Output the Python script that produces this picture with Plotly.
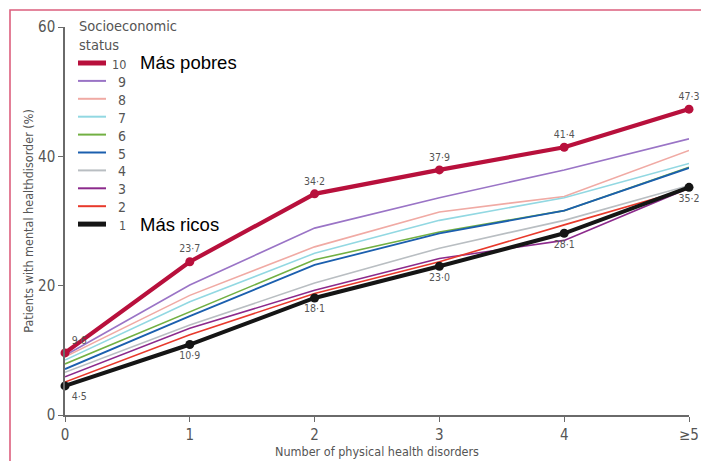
import plotly.graph_objects as go

# Number of physical health disorders (last category is open-ended)
x_vals = [0, 1, 2, 3, 4, 5]
x_ticks = ["0", "1", "2", "3", "4", "≥5"]
y_ticks = [0, 20, 40, 60]

# Percentage of patients with a mental health disorder, by socioeconomic decile
ses_10 = [9.6, 23.7, 34.2, 37.9, 41.4, 47.3]
ses_9 = [9.2, 20.1, 28.9, 33.6, 37.9, 42.7]
ses_8 = [9.0, 18.5, 26.0, 31.4, 33.8, 40.9]
ses_7 = [8.5, 17.5, 25.0, 30.1, 33.6, 38.9]
ses_6 = [7.9, 16.0, 24.0, 28.3, 31.6, 38.3]
ses_5 = [7.1, 15.3, 23.2, 28.1, 31.6, 38.2]
ses_4 = [6.6, 13.9, 20.4, 25.8, 30.1, 35.5]
ses_3 = [5.9, 13.4, 19.3, 24.2, 27.0, 35.1]
ses_2 = [5.1, 12.4, 18.8, 23.7, 29.4, 35.0]
ses_1 = [4.5, 10.9, 18.1, 23.0, 28.1, 35.2]

series_names = ["10", "9", "8", "7", "6", "5", "4", "3", "2", "1"]
series_values = [ses_10, ses_9, ses_8, ses_7, ses_6, ses_5, ses_4, ses_3, ses_2, ses_1]
colors = ["#b8103c", "#9a74c6", "#f0aaa4", "#92d8e2", "#72b043", "#1b5fae",
          "#b9bec2", "#8c2a8c", "#e8392b", "#151515"]
widths = [4.2, 1.6, 1.6, 1.6, 1.6, 1.8, 1.6, 1.6, 1.6, 4]

FONT = "Liberation Sans Narrow, DejaVu Sans Condensed, Arial Narrow, sans-serif"

# plot area in pixels
W, H = 701, 461
L, R, T, B = 65, 12, 27, 46
PW, PH = W - L - R, H - T - B


def px(x):
    return (x - L) / PW


def py(y):
    return (H - B - y) / PH


def fmt(v):
    return f"{v:.1f}".replace(".", "·")


fig = go.Figure()

# draw the lighter deciles first, the two extremes on top
order = list(range(1, 9)) + [9, 0]
for i in order:
    name, vals = series_names[i], series_values[i]
    extreme = i in (0, 9)
    tr = dict(
        x=x_vals, y=vals, name=name, showlegend=False,
        line=dict(color=colors[i], width=widths[i]),
        cliponaxis=False,
    )
    if extreme:
        tr["mode"] = "lines+markers+text"
        tr["marker"] = dict(size=9, color=colors[i])
        tr["text"] = [fmt(v) for v in vals]
        if i == 0:
            tr["textposition"] = ["top right"] + ["top center"] * 5
        else:
            tr["textposition"] = ["bottom right"] + ["bottom center"] * 5
        tr["textfont"] = dict(family=FONT, size=10.5, color="#555555")
    else:
        tr["mode"] = "lines"
    fig.add_trace(go.Scatter(**tr))

shapes = []
annotations = []

# legend block
annotations.append(dict(
    xref="paper", yref="paper", x=px(77), y=py(16), xanchor="left", yanchor="top",
    text="Socioeconomic<br>status", showarrow=False, align="left",
    font=dict(family=FONT, size=14.5, color="#555555"),
))
row0, step = 63, 17.9
for k, name in enumerate(series_names):
    yy = row0 + k * step
    shapes.append(dict(
        type="line", xref="paper", yref="paper",
        x0=px(78), x1=px(106), y0=py(yy), y1=py(yy),
        line=dict(color=colors[k], width=5 if k in (0, 9) else 2),
    ))
    annotations.append(dict(
        xref="paper", yref="paper", x=px(128), y=py(yy + 1), xanchor="right", yanchor="middle",
        text=name, showarrow=False,
        font=dict(family=FONT, size=14 if k not in (0, 9) else 12.5, color="#555555"),
    ))

annotations.append(dict(
    xref="paper", yref="paper", x=px(138), y=py(62), xanchor="left", yanchor="middle",
    text="Más pobres", showarrow=False,
    font=dict(family="Liberation Sans, Arial, sans-serif", size=18.5, color="#000000"),
))
annotations.append(dict(
    xref="paper", yref="paper", x=px(138), y=py(224), xanchor="left", yanchor="middle",
    text="Más ricos", showarrow=False,
    font=dict(family="Liberation Sans, Arial, sans-serif", size=18.5, color="#000000"),
))

# outer frame (top and left edges visible)
shapes.append(dict(
    type="path", xref="paper", yref="paper",
    path=f"M {px(10)},{py(470)} L {px(10)},{py(10)} L {px(710)},{py(10)}",
    line=dict(color="#dc5f7e", width=1.6),
))

fig.update_layout(
    width=W, height=H,
    margin=dict(l=L, r=R, t=T, b=B, autoexpand=False),
    paper_bgcolor="white", plot_bgcolor="white",
    font=dict(family=FONT, color="#555555"),
    shapes=shapes, annotations=annotations,
    showlegend=False,
)

fig.update_xaxes(
    range=[0, 5], tickvals=x_vals, ticktext=x_ticks, automargin=False,
    showgrid=False, zeroline=False,
    showline=True, linecolor="#6a6a6a", linewidth=1.5,
    ticks="outside", ticklen=5, tickwidth=1.3, tickcolor="#6a6a6a",
    tickfont=dict(family=FONT, size=15, color="#555555"),
    title=dict(text="Number of physical health disorders", standoff=2,
               font=dict(family=FONT, size=12.5, color="#555555")),
)
fig.update_yaxes(
    range=[0, 60], tickvals=y_ticks, automargin=False,
    showgrid=False, zeroline=False,
    showline=True, linecolor="#6a6a6a", linewidth=1.5,
    ticks="outside", ticklen=5, tickwidth=1.3, tickcolor="#6a6a6a",
    tickfont=dict(family=FONT, size=15, color="#555555"),
    title=dict(text="Patients with mental healthdisorder (%)", standoff=2,
               font=dict(family=FONT, size=12.5, color="#555555")),
)

fig.write_html("out.html")
